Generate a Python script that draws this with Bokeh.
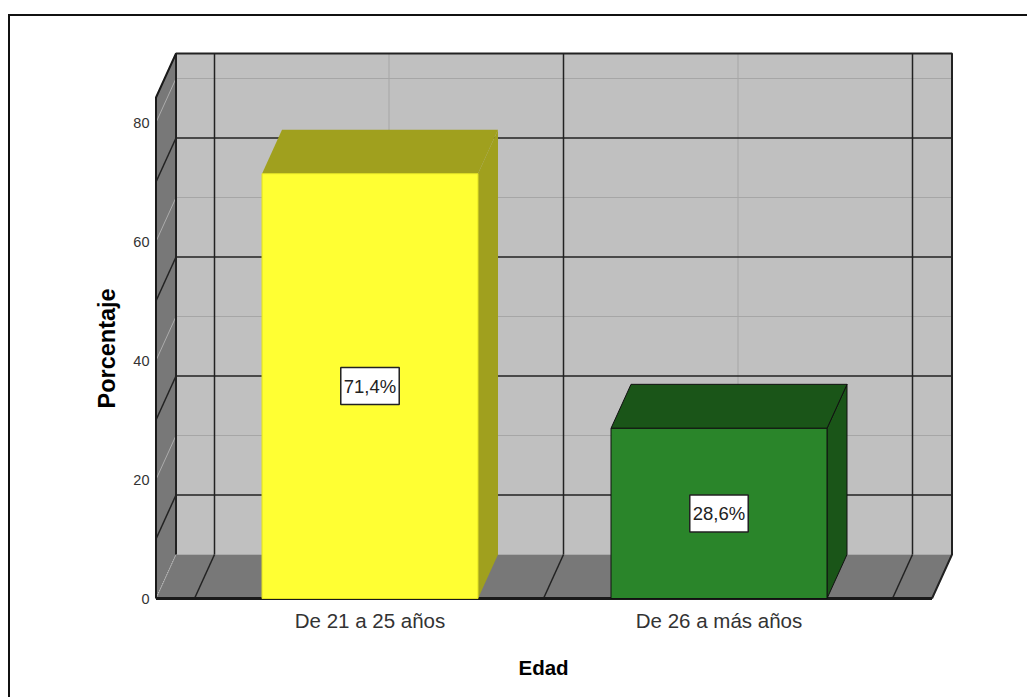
from bokeh.plotting import figure
from bokeh.embed import file_html
from bokeh.resources import INLINE
from bokeh.models import Range1d, FixedTicker, Label, Title

# ---- data ----
categories = ["De 21 a 25 años", "De 26 a más años"]
percentages = [71.4, 28.6]
value_labels = ["71,4%", "28,6%"]
y_ticks = [0, 20, 40, 60, 80]
x_title = "Edad"
y_title = "Porcentaje"

# ---- styles / layout ----
front_colors = ["#FFFF33", "#2A852A"]
dark_colors = ["#A0A01E", "#1A5518"]
edge_colors = ["#E0E020", "#111111"]
PX_X = 349.0              # pixels per category
PX_Y = 5.95               # pixels per percent
DX = 20 / PX_X            # depth of the 3D box, data units
DY = 44 / PX_Y
HALF = 108 / PX_X         # half a bar
Y_TOP = 84.2              # front top of the box
GRID_SHIFT = -1 / PX_X    # the wall's grid sits a pixel left of the bar centres
major_grid = [10, 30, 50, 70]
minor_grid = [20, 40, 60, 80]
major_cuts = [-0.5 + GRID_SHIFT, 0.5 + GRID_SHIFT, 1.5 + GRID_SHIFT]
minor_cuts = [0 + GRID_SHIFT, 1 + GRID_SHIFT]
X_LEFT = -0.5 - 39.5 / PX_X
X_RIGHT = 1.5 + 38.5 / PX_X

W, H = 1027, 697
F_L, F_R, F_T, F_B = 152, 956, 49, 602   # frame edges on the page
x0_page = 369.5
x_range = Range1d((F_L - x0_page) / PX_X, (F_R - x0_page) / PX_X)
y_range = Range1d((598 - F_B) / PX_Y, (598 - F_T) / PX_Y)

frame_css = ("linear-gradient(#111,#111) 8px 14px / 100% 2px no-repeat, "
             "linear-gradient(#111,#111) 8px 14px / 2px 100% no-repeat, white")
p = figure(width=W, height=H, output_backend="svg", toolbar_location=None,
           x_range=x_range, y_range=y_range,
           min_border_left=F_L, min_border_right=W - F_R,
           min_border_top=F_T, min_border_bottom=H - F_B,
           background_fill_color=None, border_fill_color=None,
           outline_line_color=None, styles={"background": frame_css})
p.grid.visible = False

# walls and floor
p.patch([X_LEFT + DX, X_RIGHT + DX, X_RIGHT + DX, X_LEFT + DX],
        [DY, DY, Y_TOP + DY, Y_TOP + DY], fill_color="#C0C0C0", line_color=None)
p.patch([X_LEFT, X_LEFT + DX, X_LEFT + DX, X_LEFT],
        [0, DY, Y_TOP + DY, Y_TOP], fill_color="#787878", line_color=None)
p.patch([X_LEFT, X_RIGHT, X_RIGHT + DX, X_LEFT + DX],
        [0, 0, DY, DY], fill_color="#787878", line_color=None)

# light grid
p.multi_line([[X_LEFT + DX, X_RIGHT + DX] for v in minor_grid],
             [[v + DY, v + DY] for v in minor_grid], line_color="#A6A6A6", line_width=1)
p.multi_line([[c + DX, c + DX] for c in minor_cuts],
             [[DY, Y_TOP + DY] for c in minor_cuts], line_color="#A6A6A6", line_width=1)
p.multi_line([[X_LEFT, X_LEFT + DX] for v in minor_grid],
             [[v, v + DY] for v in minor_grid], line_color="#ACACAC", line_width=1)
# dark grid
p.multi_line([[X_LEFT + DX, X_RIGHT + DX] for v in major_grid],
             [[v + DY, v + DY] for v in major_grid], line_color="#222222", line_width=1.5)
p.multi_line([[c + DX, c + DX] for c in major_cuts],
             [[DY, Y_TOP + DY] for c in major_cuts], line_color="#222222", line_width=1.5)
p.multi_line([[X_LEFT, X_LEFT + DX] for v in major_grid],
             [[v, v + DY] for v in major_grid], line_color="#222222", line_width=1.5)
p.multi_line([[c, c + DX] for c in major_cuts],
             [[0, DY] for c in major_cuts], line_color="#222222", line_width=1.5)

# corner from the front to the back of the floor
p.line([X_LEFT, X_LEFT + DX], [0, DY], line_color="#C8C8C8", line_dash="1 1", line_width=1)
# box outline
p.line([X_RIGHT, X_RIGHT + DX, X_RIGHT + DX, X_LEFT + DX, X_LEFT + DX],
       [0, DY, Y_TOP + DY, Y_TOP + DY, DY], line_color="#222222", line_width=2)
p.line([X_LEFT, X_LEFT, X_LEFT + DX],
       [0, Y_TOP, Y_TOP + DY], line_color="#1A1A1A", line_width=2)
p.line([X_LEFT, X_RIGHT], [0, 0], line_color="#1A1A1A", line_width=3)

# bars
for i, v in enumerate(percentages):
    l, r = i - HALF, i + HALF
    p.patch([r, r + DX, r + DX, r], [0, DY, v + DY, v],
            fill_color=dark_colors[i], line_color=edge_colors[i] if i else None)
    p.patch([l, r, r + DX, l + DX], [v, v, v + DY, v + DY],
            fill_color=dark_colors[i], line_color=edge_colors[i] if i else None)
    p.patch([l, r, r, l], [0, 0, v, v],
            fill_color=front_colors[i], line_color=edge_colors[i], line_width=1)
    p.add_layout(Label(x=i, y=v / 2, text=value_labels[i], text_align="center",
                       text_baseline="middle", text_font="Liberation Sans",
                       text_font_size="18.5px", text_color="#222222",
                       background_fill_color="white", border_line_color="#222222",
                       border_line_width=1.5, padding=(3, 3, 8, 8)))

# axes
xa = p.xaxis[0]
xa.ticker = FixedTicker(ticks=list(range(len(categories))))
xa.major_label_overrides = {i: c for i, c in enumerate(categories)}
ya = p.yaxis[0]
ya.ticker = FixedTicker(ticks=y_ticks)
for ax in (xa, ya):
    ax.axis_line_color = None
    ax.major_tick_line_color = None
    ax.minor_tick_line_color = None
    ax.major_tick_in = 0
    ax.major_tick_out = 0
    ax.major_label_text_font = "Liberation Sans"
    ax.major_label_text_color = "#333333"
xa.major_label_text_font_size = "20.5px"
xa.major_label_standoff = 6
ya.major_label_text_font_size = "14.5px"
ya.major_label_standoff = 3

# axis titles, placed along the front of the box rather than centred on the frame
p.add_layout(Title(text=x_title, align="left", offset=366, standoff=38,
                   text_font="Liberation Sans", text_font_style="bold",
                   text_font_size="20.5px", text_color="#000000"), "below")
p.add_layout(Title(text=y_title, align="left", offset=194, standoff=22,
                   text_font="Liberation Sans", text_font_style="bold",
                   text_font_size="23.5px", text_color="#000000"), "left")

open("out.html", "w").write(file_html(p, INLINE))
